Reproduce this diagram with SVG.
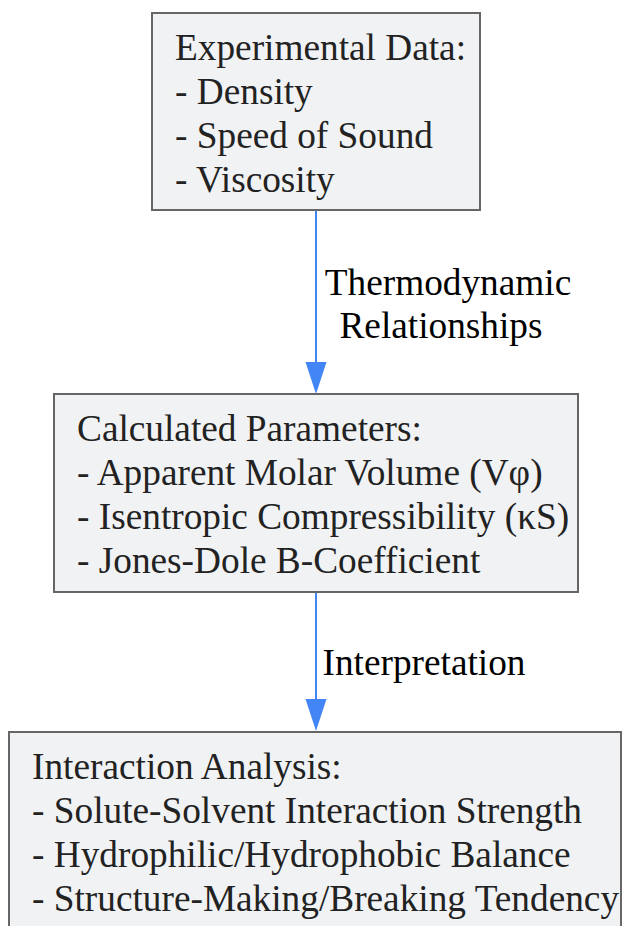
<svg xmlns="http://www.w3.org/2000/svg" width="622" height="926" viewBox="0 0 622 926">
<style>
.box{fill:#f1f2f4;stroke:#666;stroke-width:2}
.t{font-family:"Liberation Serif","Times New Roman",serif;font-size:37.3px;fill:#222}
.lbl{font-family:"Liberation Serif","Times New Roman",serif;font-size:37.3px;fill:#000}
.edge{stroke:#4285f4;stroke-width:2;fill:none}
.head{fill:#4285f4}
</style>
<rect width="622" height="926" fill="#fff"/>
<g id="edges">
<line class="edge" x1="316" y1="210" x2="316" y2="366"/>
<path class="head" d="M305.5,362 L326.5,362 L316,394 Z"/>
<line class="edge" x1="316" y1="592" x2="316" y2="702"/>
<path class="head" d="M305.5,699 L326.5,699 L316,731 Z"/>
<text class="lbl" x="448" y="295" text-anchor="middle">Thermodynamic</text>
<text class="lbl" x="441" y="338" text-anchor="middle">Relationships</text>
<text class="lbl" x="424" y="675" text-anchor="middle">Interpretation</text>
</g>
<g id="experimental">
<rect class="box" x="152" y="13" width="328" height="197"/>
<text class="t" x="175" y="60">Experimental Data:</text>
<text class="t" x="175" y="104">- Density</text>
<text class="t" x="175" y="148">- Speed of Sound</text>
<text class="t" x="175" y="192">- Viscosity</text>
</g>
<g id="calculated">
<rect class="box" x="54" y="394" width="524" height="198"/>
<text class="t" x="77" y="441">Calculated Parameters:</text>
<text class="t" x="77" y="485">- Apparent Molar Volume (Vφ)</text>
<text class="t" x="77" y="529">- Isentropic Compressibility (κS)</text>
<text class="t" x="77" y="573">- Jones-Dole B-Coefficient</text>
</g>
<g id="interaction">
<rect class="box" x="9" y="732" width="612" height="210"/>
<text class="t" x="32" y="779">Interaction Analysis:</text>
<text class="t" x="32" y="823">- Solute-Solvent Interaction Strength</text>
<text class="t" x="32" y="867">- Hydrophilic/Hydrophobic Balance</text>
<text class="t" x="32" y="911">- Structure-Making/Breaking Tendency</text>
</g>
</svg>
